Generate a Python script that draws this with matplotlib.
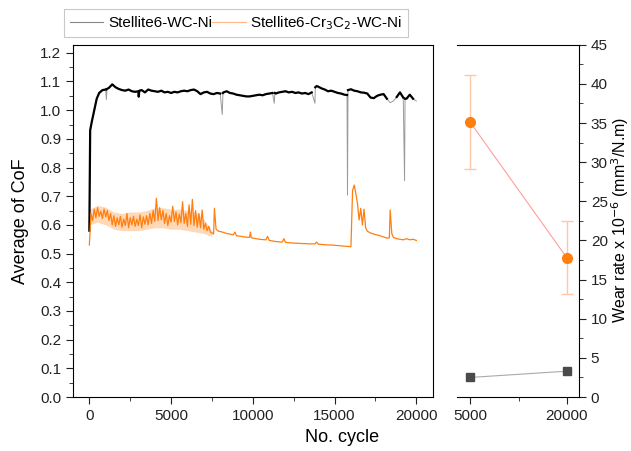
import matplotlib
matplotlib.use("Agg")
import matplotlib.pyplot as plt
from matplotlib.lines import Line2D
from matplotlib.ticker import MultipleLocator, FixedLocator

plt.rcParams['font.family'] = ['Liberation Sans', 'DejaVu Sans']

# CoF trace, Stellite6-WC-Ni
wc_cycle = [0, 50, 150, 300, 450, 600, 800,
            1000, 1040, 1080, 1200, 1400, 1600, 1800, 2000, 2200, 2400, 2600, 2800, 3000, 3020, 3060,
            3200, 3400, 3600, 3800, 4000, 4200, 4400, 4600, 4800, 5000, 5200, 5400, 5600, 5800,
            6000, 6200, 6400, 6600, 6800, 7000, 7200, 7400, 7600, 7800, 8000, 8130, 8170, 8200,
            8400, 8600, 8800, 9000, 9200, 9400, 9600, 9800, 10000, 10200, 10400, 10600, 10800,
            11000, 11200, 11310, 11350, 11400, 11600, 11800, 12000, 12200, 12400, 12600, 12800,
            13000, 13200, 13400, 13600, 13800, 13820, 13900, 14000, 14200, 14400, 14600, 14800,
            15000, 15200, 15400, 15600, 15760, 15790, 15820, 16000, 16200, 16400, 16600, 16800,
            17000, 17200, 17400, 17600, 17800, 18000, 18200, 18400, 18600, 18800, 19000, 19200,
            19280, 19310, 19400, 19600, 19800, 20000]
wc_cof = [0.580, 0.930, 0.960, 1.000, 1.040, 1.060, 1.070,
          1.072, 1.037, 1.074, 1.078, 1.090, 1.080, 1.074, 1.070, 1.068, 1.072, 1.066, 1.064, 1.066, 1.047, 1.068,
          1.070, 1.062, 1.072, 1.068, 1.066, 1.064, 1.068, 1.062, 1.064, 1.060, 1.064, 1.062, 1.066, 1.068,
          1.066, 1.070, 1.072, 1.066, 1.056, 1.062, 1.064, 1.058, 1.056, 1.060, 1.058, 0.985, 1.060, 1.062,
          1.066, 1.060, 1.058, 1.054, 1.052, 1.050, 1.048, 1.048, 1.050, 1.052, 1.054, 1.052, 1.056,
          1.058, 1.060, 1.024, 1.060, 1.058, 1.062, 1.064, 1.066, 1.062, 1.064, 1.060, 1.062,
          1.058, 1.060, 1.056, 1.062, 1.024, 1.080, 1.084, 1.082, 1.076, 1.072, 1.066, 1.068,
          1.064, 1.060, 1.058, 1.054, 1.053, 0.704, 1.070, 1.073, 1.068, 1.066, 1.062, 1.061,
          1.058, 1.044, 1.042, 1.050, 1.054, 1.056, 1.040, 1.026, 1.032, 1.046, 1.062, 1.044,
          0.754, 1.040, 1.040, 1.054, 1.040, 1.032]

# CoF trace, Stellite6-Cr3C2-WC-Ni
cr_cycle = [0, 100, 200, 300, 400, 500, 600, 700, 800, 900, 1000, 1100, 1200, 1300, 1400, 1500,
            1600, 1700, 1800, 1900, 2000, 2100, 2200, 2300, 2400, 2500, 2600, 2700, 2800, 2900,
            3000, 3100, 3200, 3300, 3400, 3500, 3600, 3700, 3800, 3900, 4000, 4100, 4200, 4300,
            4400, 4500, 4600, 4700, 4800, 4900, 5000, 5100, 5200, 5300, 5400, 5500, 5600, 5700,
            5800, 5900, 6000, 6100, 6200, 6300, 6400, 6500, 6600, 6700, 6800, 6900, 7000, 7100,
            7200, 7300, 7400, 7500, 7600, 7650, 7750, 7900, 8000, 8200, 8400, 8600, 8800, 8900,
            9000, 9200, 9400, 9600, 9800, 9850, 9900, 10000, 10200, 10400, 10600, 10800, 10900,
            11000, 11200, 11400, 11600, 11800, 11900, 12000, 12200, 12400, 12600, 12800, 13000,
            13200, 13400, 13600, 13800, 13900, 14000, 14200, 14400, 14600, 14800, 15000, 15200,
            15400, 15600, 15800, 16000, 16050, 16100, 16200, 16300, 16400, 16500, 16600, 16700,
            16800, 16900, 17000, 17200, 17400, 17600, 17800, 18000, 18200, 18350, 18400, 18500,
            18600, 18800, 19000, 19200, 19400, 19600, 19800, 20000]
cr_cof = [0.530, 0.640, 0.615, 0.655, 0.625, 0.660, 0.630, 0.648, 0.622, 0.655, 0.628, 0.650,
          0.615, 0.640, 0.600, 0.632, 0.595, 0.625, 0.600, 0.630, 0.592, 0.620, 0.598, 0.640,
          0.590, 0.625, 0.600, 0.630, 0.595, 0.620, 0.598, 0.635, 0.590, 0.628, 0.602, 0.632,
          0.600, 0.640, 0.605, 0.650, 0.612, 0.693, 0.615, 0.660, 0.618, 0.650, 0.605, 0.640,
          0.598, 0.632, 0.610, 0.665, 0.612, 0.645, 0.600, 0.638, 0.608, 0.681, 0.605, 0.640,
          0.595, 0.670, 0.602, 0.689, 0.598, 0.650, 0.592, 0.640, 0.590, 0.652, 0.585, 0.605,
          0.580, 0.595, 0.575, 0.572, 0.568, 0.658, 0.585, 0.578, 0.577, 0.574, 0.570, 0.568,
          0.565, 0.575, 0.562, 0.561, 0.559, 0.557, 0.557, 0.575, 0.556, 0.554, 0.552, 0.550,
          0.549, 0.548, 0.560, 0.546, 0.544, 0.542, 0.541, 0.540, 0.552, 0.539, 0.538, 0.537,
          0.536, 0.536, 0.535, 0.535, 0.534, 0.534, 0.534, 0.540, 0.533, 0.532, 0.531, 0.530,
          0.530, 0.529, 0.528, 0.527, 0.526, 0.525, 0.524, 0.620, 0.720, 0.739, 0.710, 0.675,
          0.617, 0.658, 0.600, 0.655, 0.590, 0.578, 0.572, 0.568, 0.565, 0.562, 0.558, 0.554,
          0.555, 0.652, 0.570, 0.556, 0.552, 0.550, 0.548, 0.552, 0.548, 0.550, 0.546]

# spread of the noisy early part of the Cr3C2 trace
band_cycle = [0, 500, 1000, 1500, 2000, 2500, 3000, 3500, 4000, 4500, 5000, 5500, 6000, 6500, 7000, 7500]
band_low = [0.600, 0.610, 0.600, 0.585, 0.580, 0.580, 0.580, 0.585, 0.590, 0.590, 0.585, 0.585,
            0.580, 0.575, 0.570, 0.560]
band_high = [0.655, 0.668, 0.662, 0.645, 0.640, 0.645, 0.645, 0.650, 0.660, 0.660, 0.655, 0.655,
             0.650, 0.645, 0.620, 0.580]

# wear rate panel
wear_cycle = [5000, 20000]
wear_wc = [2.5, 3.3]
wear_cr = [35.1, 17.8]
wear_cr_err = [6.0, 4.7]

labels = ['Stellite6-WC-Ni', 'Stellite6-Cr$_3$C$_2$-WC-Ni']

fig = plt.figure(figsize=(6.31, 4.51), dpi=100)
ax = fig.add_axes([0.1157, 0.1197, 0.570, 0.781])
ax2 = fig.add_axes([0.7238, 0.1197, 0.1938, 0.781])

# thin grey trace keeps the sharp drops, thick black trace for the body
wc_body = [v if (c < 700 or v > 1.038) else float('nan') for c, v in zip(wc_cycle, wc_cof)]
ax.plot(wc_cycle, wc_cof, color='#9a9a9a', lw=0.7)
ax.plot(wc_cycle, wc_body, color='black', lw=1.6)

ax.fill_between(band_cycle, band_low, band_high, color='#ffcfa6', lw=0, alpha=0.8)
ax.plot(cr_cycle, cr_cof, color='#ff7f0e', lw=0.9)

ax.set_xlim(-1000, 21000)
ax.set_ylim(0, 1.228)
ax.xaxis.set_major_locator(MultipleLocator(5000))
ax.xaxis.set_minor_locator(MultipleLocator(2500))
ax.yaxis.set_major_locator(MultipleLocator(0.1))
ax.yaxis.set_minor_locator(MultipleLocator(0.05))
ax.yaxis.set_major_formatter(lambda v, p: f'{v:.1f}')
ax.tick_params(which='both', direction='out', labelsize=11, colors='#222222')
ax.tick_params(which='major', length=5)
ax.tick_params(which='minor', length=3)
ax.set_ylabel('Average of CoF', fontsize=13, labelpad=8)

ax2.plot(wear_cycle, wear_wc, color='#aaaaaa', lw=0.8, zorder=1)
ax2.plot(wear_cycle, wear_wc, 's', color='#4a4a4a', ms=6, zorder=3)
ax2.errorbar(wear_cycle, wear_cr, yerr=wear_cr_err, fmt='none', ecolor='#ffc6a8',
             elinewidth=1, capsize=4, capthick=1, zorder=2)
ax2.plot(wear_cycle, wear_cr, color='#ff9e9e', lw=0.8, zorder=1)
ax2.plot(wear_cycle, wear_cr, 'o', color='#ff7f0e', ms=7, zorder=3)
ax2.set_xlim(2900, 21900)
ax2.set_ylim(0, 45)
ax2.spines['left'].set_visible(False)
ax2.xaxis.set_major_locator(FixedLocator(wear_cycle))
ax2.xaxis.set_minor_locator(FixedLocator([12500]))
ax2.yaxis.set_major_locator(MultipleLocator(5))
ax2.yaxis.set_minor_locator(MultipleLocator(2.5))
ax2.yaxis.tick_right()
ax2.tick_params(which='both', direction='out', labelsize=11, colors='#222222')
ax2.tick_params(which='major', length=5)
ax2.tick_params(which='minor', length=3)

fig.text(620 / 631, 1 - 220 / 451, 'Wear rate x 10$^{-6}$ (mm$^3$/N.m)', fontsize=11.5,
         rotation=90, ha='center', va='center')
fig.text(342 / 631, 1 - 437 / 451, 'No. cycle', fontsize=13, ha='center', va='center')

handles = [Line2D([], [], color='#888888', lw=0.8), Line2D([], [], color='#ffb787', lw=0.8)]
leg = fig.legend(handles, labels, loc='center', bbox_to_anchor=(236 / 631, 1 - 23 / 451), ncol=2,
                 fontsize=11, frameon=True, fancybox=False, edgecolor='#bbbbbb',
                 handlelength=2.2, handletextpad=0.3, columnspacing=0.0, borderpad=0.35)
leg.get_frame().set_linewidth(0.8)

fig.savefig('out.png', dpi=100)
